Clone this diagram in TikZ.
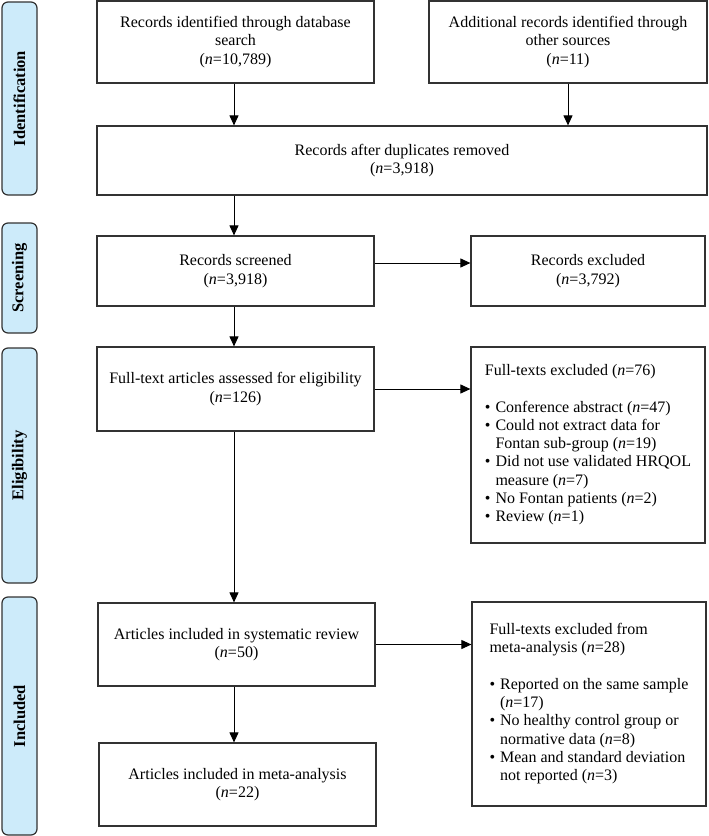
\documentclass[tikz,border=0pt]{standalone}
\usepackage{fontspec}
\setmainfont{Liberation Serif}
\usetikzlibrary{arrows.meta}
\definecolor{sidefill}{RGB}{205,235,250}
\definecolor{edge}{RGB}{50,50,50}
\newcommand{\nn}[1]{(\textit{n}=#1)}
\begin{document}
\begin{tikzpicture}[x=1pt,y=-1pt,
  font=\fontsize{16}{18.3}\selectfont,
  flowbox/.style={draw=edge,line width=1.2pt,inner sep=2pt,align=center,text=black},
  sidebox/.style={draw=edge,line width=1.2pt,fill=sidefill,rounded corners=6pt,rotate=90,minimum height=35pt,inner sep=0pt,font=\fontsize{16.5}{18}\selectfont\bfseries},
  arr/.style={draw=black,line width=1pt,-{Triangle[length=10pt,width=9pt]}}]
\useasboundingbox (0,0) rectangle (709,836);
% side labels
\node[sidebox,minimum width=193pt] (sid) at (19.5,98.5) {Identification};
\node[sidebox,minimum width=110pt] (sscr) at (19.5,278) {Screening};
\node[sidebox,minimum width=235pt] (selig) at (19.5,465.5) {Eligibility};
\node[sidebox,minimum width=238pt] (sinc) at (19.5,716) {Included};
% boxes
\node[flowbox,minimum width=277pt,minimum height=82pt] (db) at (235.5,42) {Records identified through database\\search\\\nn{10,789}};
\node[flowbox,minimum width=278pt,minimum height=82pt] (other) at (568,42) {Additional records identified through\\other sources\\\nn{11}};
\node[flowbox,minimum width=610pt,minimum height=69pt] (dup) at (402,160.5) {Records after duplicates removed\\\nn{3,918}};
\node[flowbox,minimum width=277pt,minimum height=70pt] (scr) at (235.5,271) {Records screened\\\nn{3,918}};
\node[flowbox,minimum width=234pt,minimum height=70pt] (excl) at (588,271) {Records excluded\\\nn{3,792}};
\node[flowbox,minimum width=277pt,minimum height=84pt] (assess) at (235.5,389) {Full-text articles assessed for eligibility\\\nn{126}};
\node[flowbox,minimum width=234pt,minimum height=196pt] (ftex) at (588,445) {%
\begin{tabular}{@{}l@{\hspace{5pt}}l@{}}
\multicolumn{2}{@{}l@{}}{Full-texts excluded \nn{76}}\\[18.3pt]
\textbullet & Conference abstract \nn{47}\\
\textbullet & Could not extract data for\\
 & Fontan sub-group \nn{19}\\
\textbullet & Did not use validated HRQOL\\
 & measure \nn{7}\\
\textbullet & No Fontan patients \nn{2}\\
\textbullet & Review \nn{1}
\end{tabular}};
\node[flowbox,minimum width=277pt,minimum height=83pt] (sys) at (236.5,644.5) {Articles included in systematic review\\\nn{50}};
\node[flowbox,minimum width=234pt,minimum height=204pt] (metaex) at (589,704) {%
\begin{tabular}{@{}l@{\hspace{5pt}}l@{}}
\multicolumn{2}{@{}l@{}}{Full-texts excluded from}\\
\multicolumn{2}{@{}l@{}}{meta-analysis \nn{28}}\\[18.3pt]
\textbullet & Reported on the same sample\\
 & \nn{17}\\
\textbullet & No healthy control group or\\
 & normative data \nn{8}\\
\textbullet & Mean and standard deviation\\
 & not reported \nn{3}
\end{tabular}};
\node[flowbox,minimum width=277pt,minimum height=83pt] (meta) at (237.5,784.5) {Articles included in meta-analysis\\\nn{22}};
% connectors
\draw[arr] ([xshift=-1.5pt]db.south) -- ([xshift=-1.5pt]db.south |- dup.north);
\draw[arr] (other.south) -- (other.south |- dup.north);
\draw[arr] (dup.south -| db.south) ++(-1.5pt,0) coordinate (c1) -- (c1 |- scr.north);
\draw[arr] ([xshift=-1.5pt]scr.south) -- ([xshift=-1.5pt]scr.south |- assess.north);
\draw[arr] ([yshift=8pt]scr.east) -- ([yshift=8pt]scr.east -| excl.west);
\draw[arr] ([xshift=-1.5pt]assess.south) -- ([xshift=-1.5pt]assess.south |- sys.north);
\draw[arr] (assess.east) -- (assess.east -| ftex.west);
\draw[arr] ([xshift=-2.5pt]sys.south) -- ([xshift=-2.5pt]sys.south |- meta.north);
\draw[arr] (sys.east) -- (sys.east -| metaex.west);
\end{tikzpicture}
\end{document}
